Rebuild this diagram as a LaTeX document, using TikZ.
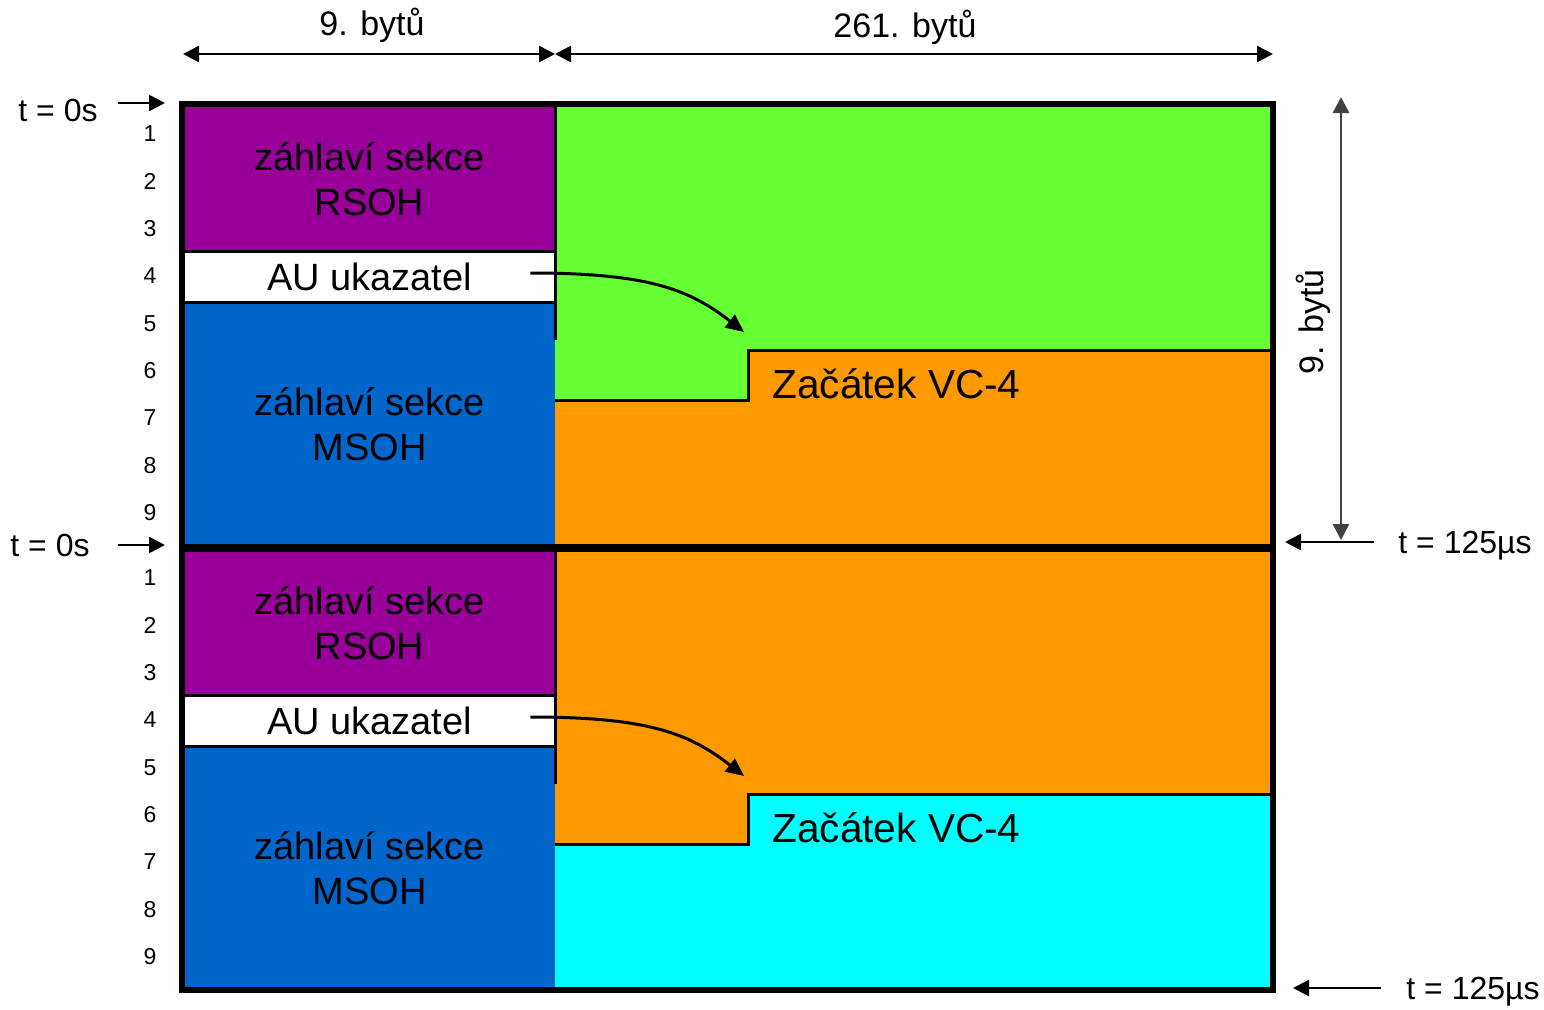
\documentclass[tikz,border=0pt]{standalone}
\usepackage{fontspec}
\setmainfont{Liberation Sans}
\usetikzlibrary{arrows.meta,calc}
\definecolor{rsohpurple}{HTML}{990099}
\definecolor{msohblue}{HTML}{0066CC}
\definecolor{vcgreen}{HTML}{66FF33}
\definecolor{vcorange}{HTML}{FF9900}
\definecolor{vccyan}{HTML}{00FFFF}

\begin{document}
\begin{tikzpicture}[x=0.5pt,y=-0.5pt,>={Triangle[length=8pt,width=8pt]},
  blk/.style={inner sep=0pt,minimum width=185.5pt,align=center,font=\fontsize{19}{22.5}\selectfont},
  sep/.style={line width=1.5pt},
  dim/.style={<->,line width=1.3pt},
  lbl/.style={font=\fontsize{16}{19}\selectfont},
  rownum/.style={font=\fontsize{11.5}{13}\selectfont}]
\useasboundingbox (0,0) rectangle (1544,1009);
\foreach \dy/\ctop/\cbot/\k in {0/vcgreen/vcorange/1,444/vcorange/vccyan/2}{
\begin{scope}[shift={(0,\dy)}]
  \fill[\ctop] (555,106) rectangle (1271,546);
  \fill[\cbot] (555,400) -- (748,400) -- (748,350) -- (1271,350) -- (1271,546) -- (555,546) -- cycle;
  \node[blk,fill=rsohpurple,minimum height=73pt] (rsoh\k) at (369.5,179) {záhlaví sekce\\RSOH};
  \node[blk,fill=white,minimum height=25pt] (au\k) at (369.5,277) {AU ukazatel};
  \node[blk,fill=msohblue,minimum height=122pt] (msoh\k) at (369.5,424) {záhlaví sekce\\MSOH};
  \draw[sep] (au\k.north west) -- (au\k.north east);
  \draw[sep] (au\k.south west) -- (au\k.south east);
  \draw[sep] (555,106) -- (555,340);
  \draw[sep] (555,400) -- (748,400) -- (748,350) -- (1271,350);
  \node[blk,anchor=west,minimum width=0pt,font=\fontsize{20.3}{23}\selectfont] (vc\k) at (772,384) {Začátek VC-4};
  \coordinate (tip\k) at (744,332);
  \draw[->,line width=1.5pt,>={Triangle[length=9pt,width=8pt]}] ([shift={(-25,-4)}]au\k.east) .. controls (650,273) and (690,290) .. (tip\k);
  \foreach \r in {1,...,9}
    \node[rownum] (row\k\r) at (150,{134+(\r-1)*47.3}) {\r};
\end{scope}}
% frame
\draw[line width=3pt] (182,104) rectangle (1273,990);
\draw[line width=4pt] (182,548) -- (1273,548);
% widths
\node[lbl,font=\fontsize{17}{20}\selectfont] (w9) at (372,25) {9. bytů};
\node[lbl,font=\fontsize{17}{20}\selectfont] (w261) at (905,27) {261. bytů};
\coordinate (c0) at (183,54);
\coordinate (c1) at (555,54);
\coordinate (c2) at (1273,54);
\draw[dim] (c0) -- (c1);
\draw[dim] (c1) -- (c2);
% height
\coordinate (hTop) at (1341,97);
\coordinate (hBot) at (1341,540);
\draw[dim,black!75] (hTop) -- (hBot);
\node[lbl,font=\fontsize{17}{20}\selectfont,rotate=90] (h9) at (1313,322) {9. bytů};
% times
\node[lbl] (tz1) at (58,110) {t = 0s};
\node[lbl] (tz2) at (50,545) {t = 0s};
\coordinate (in1) at (165,103);
\coordinate (in2) at (165,545);
\draw[->,line width=1.3pt] ([shift={(13,-7)}]tz1.east) -- (in1);
\draw[->,line width=1.3pt] ([shift={(21,0)}]tz2.east) -- (in2);
\node[lbl] (te1) at (1465,546) {t = 125µs};
\node[lbl] (te2) at (1473,992) {t = 125µs};
\coordinate (out1) at (1285,542);
\coordinate (out2) at (1293,988);
\draw[->,line width=1.3pt] ([shift={(-17,-4)}]te1.west) -- (out1);
\draw[->,line width=1.3pt] ([shift={(-18,-4)}]te2.west) -- (out2);
\end{tikzpicture}
\end{document}
